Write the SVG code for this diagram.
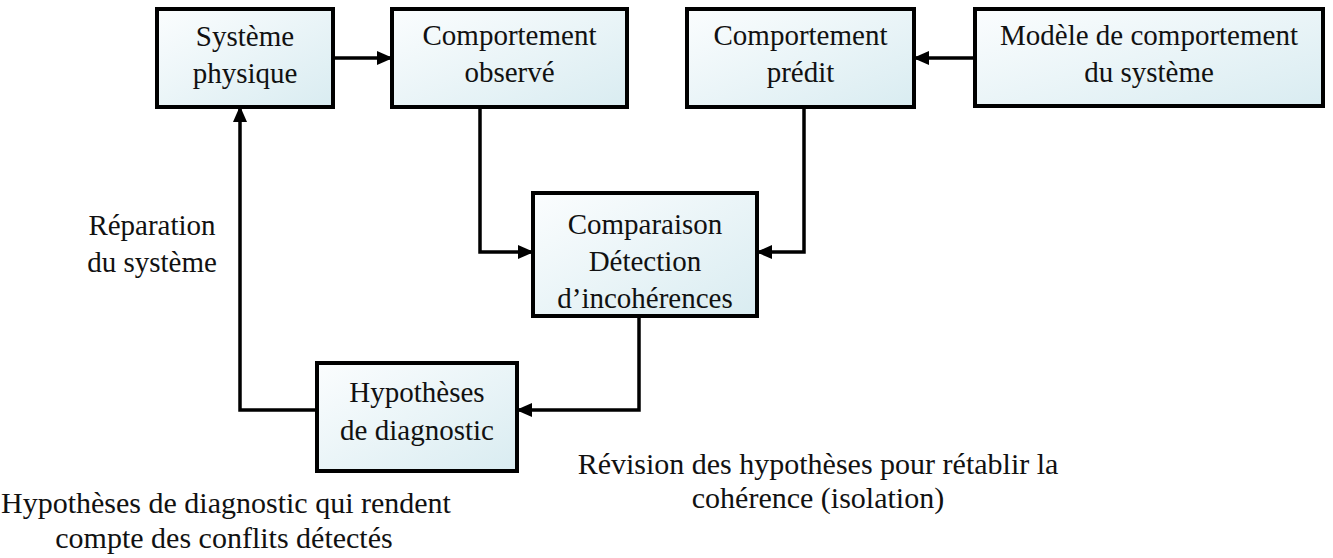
<svg xmlns="http://www.w3.org/2000/svg" width="1333" height="558" viewBox="0 0 1333 558">
  <defs>
    <linearGradient id="boxFill" x1="0" y1="0" x2="1" y2="1">
      <stop offset="0" stop-color="#fbfdfe"/>
      <stop offset="1" stop-color="#d9ecf1"/>
    </linearGradient>
    <marker id="arrow" viewBox="0 0 16 14" refX="15" refY="7" markerWidth="16" markerHeight="14" markerUnits="userSpaceOnUse" orient="auto">
      <path d="M0,0 L16,7 L0,14 Z" fill="#000"/>
    </marker>
  </defs>
  <style>
    .box { fill: url(#boxFill); stroke: #000; stroke-width: 4; }
    .lbl { font-family: "Liberation Serif", "Times New Roman", serif; font-size: 29px; fill: #111; text-anchor: middle; }
    .note { font-size: 30px; }
    .wire { fill: none; stroke: #000; stroke-width: 3.5; marker-end: url(#arrow); }
  </style>
  <rect width="1333" height="558" fill="#fff"/>

  <!-- connectors between the blocks -->
  <g id="connectors">
    <path class="wire" d="M333,58 L392,58"/>
    <path class="wire" d="M975,58 L914,58"/>
    <path class="wire" d="M480,107 L480,252 L533,252"/>
    <path class="wire" d="M804,107 L804,252 L757,252"/>
    <path class="wire" d="M639,316 L639,410 L517,410"/>
    <path class="wire" d="M317,410 L240,410 L240,107"/>
  </g>

  <g id="systeme-physique">
    <rect class="box" x="157" y="9" width="176" height="98"/>
    <text class="lbl" x="245" y="46">Système</text>
    <text class="lbl" x="245" y="83">physique</text>
  </g>

  <g id="comportement-observe">
    <rect class="box" x="392" y="9" width="235" height="98"/>
    <text class="lbl" x="509.5" y="45">Comportement</text>
    <text class="lbl" x="509.5" y="82">observé</text>
  </g>

  <g id="comportement-predit">
    <rect class="box" x="687" y="9" width="227" height="98"/>
    <text class="lbl" x="800.5" y="45">Comportement</text>
    <text class="lbl" x="800.5" y="82">prédit</text>
  </g>

  <g id="modele">
    <rect class="box" x="975" y="9" width="348" height="97"/>
    <text class="lbl" x="1149" y="45">Modèle de comportement</text>
    <text class="lbl" x="1149" y="82">du système</text>
  </g>

  <g id="comparaison">
    <rect class="box" x="533" y="193" width="224" height="123"/>
    <text class="lbl" x="645" y="234">Comparaison</text>
    <text class="lbl" x="645" y="271">Détection</text>
    <text class="lbl" x="645" y="308">d’incohérences</text>
  </g>

  <g id="hypotheses">
    <rect class="box" x="317" y="363" width="200" height="108"/>
    <text class="lbl" x="417" y="402">Hypothèses</text>
    <text class="lbl" x="417" y="440">de diagnostic</text>
  </g>

  <g id="annotations">
    <text class="lbl" x="152" y="235">Réparation</text>
    <text class="lbl" x="152" y="272">du système</text>
    <text class="lbl note" x="818" y="474">Révision des hypothèses pour rétablir la</text>
    <text class="lbl note" x="818" y="508">cohérence (isolation)</text>
    <text class="lbl note" x="226" y="513">Hypothèses de diagnostic qui rendent</text>
    <text class="lbl note" x="224" y="548">compte des conflits détectés</text>
  </g>
</svg>
